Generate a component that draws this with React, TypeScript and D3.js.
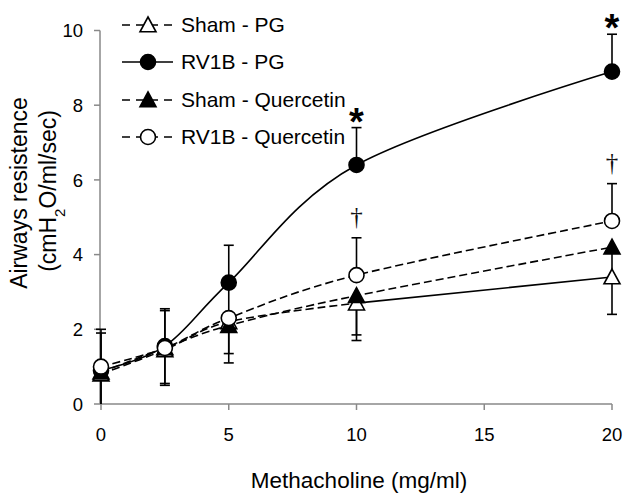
import React from "react";
import * as d3 from "d3";

const doses = [0, 2.5, 5, 10, 20];
const seriesNames = ["Sham - PG", "RV1B - PG", "Sham - Quercetin", "RV1B - Quercetin"];
const shamPG = [0.8, 1.45, 2.2, 2.7, 3.4];
const rv1bPG = [0.9, 1.55, 3.25, 6.4, 8.9];
const shamQuer = [0.85, 1.5, 2.1, 2.9, 4.2];
const rv1bQuer = [1.0, 1.5, 2.3, 3.45, 4.9];
const shamPGErrMinus = [0.8, 0.95, 1.1, 1.0, 1.0];
const rv1bPGErrPlus = [1.0, 1.0, 1.0, 1.0, 1.0];
const shamQuerErrMinus = [0.85, 0.95, 0.75, 1.05, 0.9];
const rv1bQuerErrPlus = [1.0, 1.0, 1.0, 1.0, 1.0];
const yTicks = [0, 2, 4, 6, 8, 10];
const xTicks = [0, 5, 10, 15, 20];
const annotations = [
  { x: 10, v: 7.4, sym: "*" },
  { x: 20, v: 9.9, sym: "*" },
  { x: 10, v: 4.45, sym: "†" },
  { x: 20, v: 5.9, sym: "†" },
];

type Marker = "tri" | "circle";
type Series = {
  name: string;
  values: number[];
  plus: number[];
  minus: number[];
  marker: Marker;
  filled: boolean;
  dashed: boolean;
  solidFrom?: number;
};

const series: Series[] = [
  { name: seriesNames[0], values: shamPG, plus: [0, 0, 0, 0, 0], minus: shamPGErrMinus, marker: "tri", filled: false, dashed: true, solidFrom: 3 },
  { name: seriesNames[1], values: rv1bPG, plus: rv1bPGErrPlus, minus: [0, 0, 0, 0, 0], marker: "circle", filled: true, dashed: false },
  { name: seriesNames[2], values: shamQuer, plus: [0, 0, 0, 0, 0], minus: shamQuerErrMinus, marker: "tri", filled: true, dashed: true },
  { name: seriesNames[3], values: rv1bQuer, plus: rv1bQuerErrPlus, minus: [0, 0, 0, 0, 0], marker: "circle", filled: false, dashed: true },
];

const W = 633;
const H = 497;
const FONT = "Liberation Sans, Arial, sans-serif";
const AXIS = "#898989";
const DASH = "8,4";

function MarkerShape({ type, filled, cx, cy }: { type: Marker; filled: boolean; cx: number; cy: number }) {
  const fill = filled ? "#000" : "#fff";
  if (type === "circle") {
    return <circle cx={cx} cy={cy} r={7.5} fill={fill} stroke="#000" strokeWidth={1.6} />;
  }
  const s = 8;
  const pts = `${cx},${cy - s} ${cx + s},${cy + s * 0.85} ${cx - s},${cy + s * 0.85}`;
  return <polygon points={pts} fill={fill} stroke="#000" strokeWidth={1.6} strokeLinejoin="miter" />;
}

export default function App() {
  const x = d3.scaleLinear().domain([0, 20]).range([101, 612]);
  const y = d3.scaleLinear().domain([0, 10]).range([404, 30.5]);
  const line = d3
    .line<[number, number]>()
    .x((d) => x(d[0]))
    .y((d) => y(d[1]))
    .curve(d3.curveCatmullRom.alpha(0));

  const legendRows = [25, 62, 100, 137];

  return (
    <svg width={W} height={H} style={{ position: "absolute", left: 0, top: 0, background: "#fff" }} fontFamily={FONT}>
      <rect width={W} height={H} fill="#fff" />
      {/* axes */}
      <line x1={100} x2={100} y1={y(10)} y2={y(0)} stroke={AXIS} strokeWidth={1.5} />
      <line x1={100} x2={x(20)} y1={y(0)} y2={y(0)} stroke={AXIS} strokeWidth={1.5} />
      {yTicks.map((t) => (
        <g key={"yt" + t}>
          <line x1={94} x2={100} y1={y(t)} y2={y(t)} stroke={AXIS} strokeWidth={1.5} />
          <text x={83} y={y(t)} dy="0.36em" textAnchor="end" fontSize={18.5} fill="#000">
            {t}
          </text>
        </g>
      ))}
      {xTicks.map((t) => (
        <g key={"xt" + t}>
          <line x1={x(t)} x2={x(t)} y1={y(0)} y2={y(0) + 6} stroke={AXIS} strokeWidth={1.5} />
          <text x={x(t)} y={441} textAnchor="middle" fontSize={18.5} fill="#000">
            {t}
          </text>
        </g>
      ))}
      <text x={359} y={488} textAnchor="middle" fontSize={22.5} fill="#000">
        Methacholine (mg/ml)
      </text>
      <g transform="translate(19,193) rotate(-90)">
        <text x={0} y={0} dy="0.35em" textAnchor="middle" fontSize={23} fill="#000">
          Airways resistence
        </text>
      </g>
      <g transform="translate(48,191) rotate(-90)">
        <text x={0} y={0} dy="0.35em" textAnchor="middle" fontSize={23} fill="#000">
          (cmH<tspan baselineShift="sub" fontSize={15}>2</tspan>O/ml/sec)
        </text>
      </g>

      {/* lines */}
      {series.map((s, i) => {
        const pts: [number, number][] = doses.map((d, j) => [d, s.values[j]]);
        if (s.solidFrom !== undefined) {
          const a = pts.slice(0, s.solidFrom + 1);
          const b = pts.slice(s.solidFrom);
          return (
            <g key={"l" + i}>
              <path d={line(a) || ""} fill="none" stroke="#000" strokeWidth={1.6} strokeDasharray={DASH} />
              <path d={line(b) || ""} fill="none" stroke="#000" strokeWidth={1.6} />
            </g>
          );
        }
        return (
          <path
            key={"l" + i}
            d={line(pts) || ""}
            fill="none"
            stroke="#000"
            strokeWidth={1.6}
            strokeDasharray={s.dashed ? DASH : undefined}
          />
        );
      })}

      {/* error bars */}
      {series.map((s, i) =>
        doses.map((d, j) => {
          const cx = x(d);
          const v = s.values[j];
          const out: React.ReactNode[] = [];
          if (s.plus[j] > 0) {
            const top = y(v + s.plus[j]);
            out.push(<line key="p" x1={cx} x2={cx} y1={y(v)} y2={top} stroke="#000" strokeWidth={1.6} />);
            out.push(<line key="pc" x1={cx - 5} x2={cx + 5} y1={top} y2={top} stroke="#000" strokeWidth={1.6} />);
          }
          if (s.minus[j] > 0) {
            const bot = y(Math.max(0, v - s.minus[j]));
            out.push(<line key="m" x1={cx} x2={cx} y1={y(v)} y2={bot} stroke="#000" strokeWidth={1.6} />);
            if (v - s.minus[j] > 0.05)
              out.push(<line key="mc" x1={cx - 5} x2={cx + 5} y1={bot} y2={bot} stroke="#000" strokeWidth={1.6} />);
          }
          return <g key={"e" + i + "-" + j}>{out}</g>;
        })
      )}

      {/* markers */}
      {series.map((s, i) =>
        doses.map((d, j) => (
          <MarkerShape key={"m" + i + "-" + j} type={s.marker} filled={s.filled} cx={x(d)} cy={y(s.values[j])} />
        ))
      )}

      {/* annotations */}
      {annotations.map((a, i) =>
        a.sym === "*" ? (
          <text key={"a" + i} x={x(a.x)} y={y(a.v) + 7} textAnchor="middle" fontSize={38} fontWeight="bold" fill="#000">
            {a.sym}
          </text>
        ) : (
          <text key={"a" + i} x={x(a.x)} y={y(a.v) - 13} textAnchor="middle" fontSize={25} fontFamily="Liberation Serif, serif" fill="#111">
            {a.sym}
          </text>
        )
      )}

      {/* legend */}
      {series.map((s, i) => {
        const cy = legendRows[i];
        return (
          <g key={"lg" + i}>
            <line x1={122} x2={173} y1={cy} y2={cy} stroke="#000" strokeWidth={1.6} strokeDasharray={s.dashed ? "8,6" : undefined} />
            <MarkerShape type={s.marker} filled={s.filled} cx={148} cy={cy} />
            <text x={181} y={cy} dy="0.35em" fontSize={21} fill="#000">
              {s.name}
            </text>
          </g>
        );
      })}
    </svg>
  );
}
